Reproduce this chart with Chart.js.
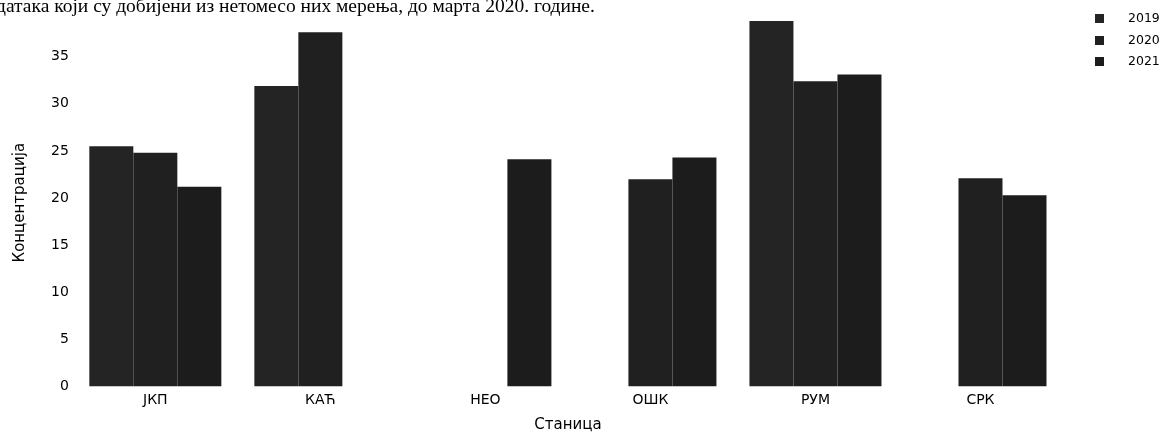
<!DOCTYPE html>
<html>
<head>
<meta charset="utf-8">
<script src="https://cdn.jsdelivr.net/npm/chart.js@4.4.0/dist/chart.umd.min.js"></script>
<style>
  html, body { margin: 0; padding: 0; background: #fff; }
  #wrap { position: relative; width: 1166px; height: 434px; overflow: hidden; }
  #topText {
    position: absolute; left: -4px; top: -4px; white-space: nowrap;
    font-family: "Liberation Serif", serif; font-size: 19.5px; line-height: 20px; color: #000;
  }
  #legend { position: absolute; left: 1095px; top: 9px; font-family: "DejaVu Sans", sans-serif; font-size: 12.5px; color: #000; }
  .item { position: relative; height: 21.5px; width: 70px; }
  .box { position: absolute; left: 0; top: 5px; width: 9px; height: 9px; }
  .lbl { position: absolute; left: 33px; top: 1px; line-height: 16px; }
</style>
</head>
<body>
<div id="wrap">
  <canvas id="chart" width="1166" height="434"></canvas>
  <div id="topText">датака који су добијени из нетомесо них мерења, до марта 2020. године.</div>
  <div id="legend"></div>
</div>
<script>
const stations = ["ЈКП", "КАЋ", "НЕО", "ОШК", "РУМ", "СРК"];
const years = ["2019", "2020", "2021"];
const values2019 = [25.5, 31.9, null, null, 38.8, null];
const values2020 = [24.8, 37.6, null, 22.0, 32.4, 22.1];
const values2021 = [21.2, null, 24.1, 24.3, 33.1, 20.3];
const yTicks = [0, 5, 10, 15, 20, 25, 30, 35];

const barColors = ["#242424", "#202020", "#1c1c1c"];
const tickFont = { family: "DejaVu Sans", size: 14 };
const titleFont = { family: "DejaVu Sans", size: 15 };

// legend drawn as html, right of the plot
const legendEl = document.getElementById("legend");
years.forEach((y, i) => {
  const row = document.createElement("div");
  row.className = "item";
  row.innerHTML = `<span class="box" style="background:${barColors[i]}"></span><span class="lbl">${y}</span>`;
  legendEl.appendChild(row);
});

new Chart(document.getElementById("chart"), {
  type: "bar",
  data: {
    labels: stations,
    datasets: [values2019, values2020, values2021].map((vals, i) => ({
      label: years[i],
      data: vals,
      backgroundColor: barColors[i],
      borderWidth: 0,
      categoryPercentage: 0.8,
      barPercentage: 1.0
    }))
  },
  options: {
    responsive: false,
    animation: false,
    layout: { padding: { left: 8, right: 103, top: 19, bottom: 0 } },
    plugins: {
      tooltip: { enabled: false },
      legend: { display: false }
    },
    scales: {
      x: {
        grid: { display: false, drawTicks: false },
        border: { display: false },
        ticks: { color: "#000", font: tickFont, padding: 5.6 },
        title: {
          display: true, text: "Станица", color: "#000",
          font: titleFont, padding: { top: 1.6, bottom: 0 }
        }
      },
      y: {
        min: 0,
        max: 39,
        afterBuildTicks: axis => { axis.ticks = yTicks.map(v => ({ value: v })); },
        grid: { display: false, drawTicks: false },
        border: { display: false },
        ticks: { color: "#000", font: tickFont, padding: 4 },
        title: {
          display: true, text: "Концентрација", color: "#000",
          font: titleFont, padding: { top: 3, bottom: 18 }
        }
      }
    }
  }
});
</script>
</body>
</html>
